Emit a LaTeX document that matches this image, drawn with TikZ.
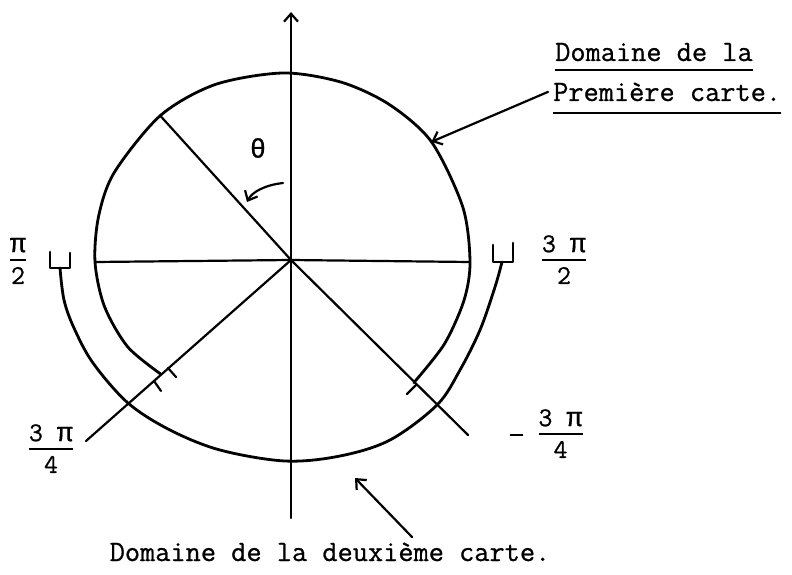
\documentclass[tikz,border=0pt]{standalone}
\usepackage{fontspec}
\newfontfamily\inkfont{Latin Modern Mono}[FakeBold=0.8]
\newfontfamily\grkfont{Liberation Mono}[FakeBold=0.6]
\usetikzlibrary{arrows.meta,calc,positioning}
\newcommand{\tbar}[2]{\begin{tabular}{@{}c@{}}#1\\[-2pt]\noalign{\hrule height 1.8pt}\rule{0pt}{23pt}#2\end{tabular}}
\newcommand{\gpi}{{\grkfont π}}

\begin{document}
\begin{tikzpicture}[x=1pt, y=-1pt, >={Straight Barb[length=8pt,width=14pt]},
  every node/.style={inner sep=0pt},
  txt/.style={font=\inkfont\fontsize{29.5}{32}\selectfont},
  frac/.style={font=\inkfont\fontsize{27}{30}\selectfont},
  arc/.style={line width=2.8pt, line cap=round, line join=round},
  ray/.style={line width=2.2pt, line cap=round}]
  \useasboundingbox (0,0) rectangle (792,575);
  \coordinate (O) at (291,260);
  \coordinate (C) at (283,262);
  % first chart
  \begin{scope}[shift={(C)}]
    \draw[arc] plot[smooth, tension=0.5] coordinates {(137.7:166) (151.4:177) (166:184)
      (180:188) (194:190) (208:191) (230:191) (249:190) (270:189) (288:189) (304:190)
      (321:191) (343:188) (360:187) (372:185) (387:181) (402.7:178)};
    \coordinate (ul) at (230:191);
    \coordinate (tipA) at (321:191);
    \coordinate (le) at (180:188);
    \coordinate (re) at (360:187);
  \end{scope}
  % axes and rays
  \coordinate (top) at (291,12);
  \coordinate (bot) at (291,518);
  \draw[ray, ->] (bot) -- (top);
  \draw[ray] (le) -- (O) -- (re);
  \draw[ray] (ul) -- (O) -- (468,435);
  \draw[ray] (O) -- (86,441);
  % second chart
  \draw[arc] plot[smooth, tension=0.55] coordinates {(60,268) (64,300) (74,328) (93,363)
    (128,403) (170,430) (220,450) (285,461) (340,456) (390,440) (437,405)
    (460,370) (480,330) (495,287) (502,262)};
  \draw[arc] (50,252) -- (50,268) -- (70,268) -- (70,253);
  \draw[arc] (493,245) -- (493,262) -- (513,262) -- (513,243);
  % ends
  \draw[ray] (168,368) -- (176,377);
  \draw[ray] (154,381) -- (161,391);
  \draw[ray] (416,385) -- (407,394);
  % labels
  \node[frac] (th) at (258,148) {\grkfont θ};
  \coordinate (th0) at (283,183);
  \coordinate (th1) at (247,202);
  \draw[ray, ->] (th0) .. controls (265,185) and (252,192) .. (th1);
  \node[frac] (l1) at (18,262) {\tbar{\gpi}{2}};
  \node[frac] (l2) at (564,262) {\tbar{3 \gpi}{2}};
  \node[frac] (l3) at (51,451) {\tbar{3 \gpi}{4}};
  \node[frac] (l4) at (546,436) {\rule[6pt]{13pt}{2.4pt}\hspace{16pt}\tbar{3 \gpi}{4}};
  \node[txt, anchor=base west] (dom1) at (555,61) {Domaine de la};
  \node[txt, anchor=base west] (prem) at (553,101) {Première carte.};
  \draw[line width=1.6pt] ([yshift=-9pt]dom1.base west) -- ([yshift=-9pt]dom1.base east);
  \draw[line width=1.6pt] ([yshift=-12pt]prem.base west) -- ([yshift=-12pt]prem.base east);
  \draw[ray, ->] ([xshift=-5pt]prem.west) -- (tipA);
  \node[txt, anchor=base] (dom2) at (330,561) {Domaine de la deuxième carte.};
  \coordinate (tailB) at (412,537);
  \coordinate (tipB) at (355,478);
  \draw[ray, ->] (tailB) -- (tipB);
\end{tikzpicture}
\end{document}
